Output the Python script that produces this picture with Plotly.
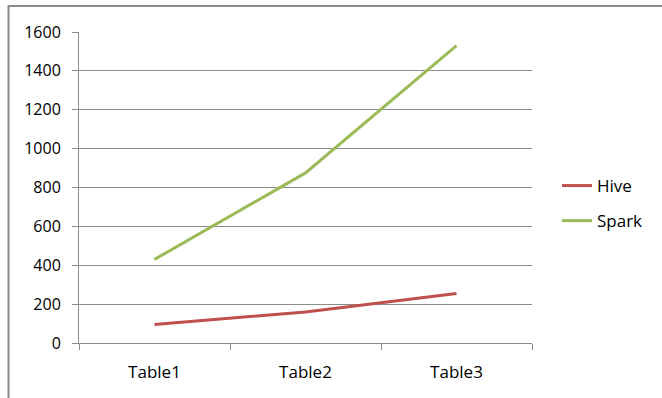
import plotly.graph_objects as go

categories = ["Table1", "Table2", "Table3"]
hive = [95, 160, 255]
spark = [430, 875, 1530]
y_ticks = [0, 200, 400, 600, 800, 1000, 1200, 1400, 1600]

W, H = 662, 398
L, R, T, B = 79, 130, 32, 55
pw, ph = W - L - R, H - T - B

def px_x(p):
    return (p - L) / pw

def px_y(p):
    return 1 - (p - T) / ph

fig = go.Figure()
fig.add_trace(go.Scatter(x=categories, y=hive, mode="lines", name="Hive",
                         line=dict(color="#C0504D", width=3), legendgroup="a"))
fig.add_trace(go.Scatter(x=categories, y=spark, mode="lines", name="Spark",
                         line=dict(color="#9BBB59", width=3), legendgroup="b"))

font_fam = "Open Sans, DejaVu Sans, sans-serif"
fig.update_layout(
    width=W, height=H,
    margin=dict(l=L, r=R, t=T, b=B),
    paper_bgcolor="white", plot_bgcolor="white",
    font=dict(family=font_fam, size=16, color="#000000"),
    showlegend=True,
    legend=dict(x=px_x(557), y=px_y(168), xanchor="left", yanchor="top",
                tracegroupgap=10, font=dict(size=17, family=font_fam),
                bgcolor="rgba(0,0,0,0)"),
    xaxis=dict(range=[-0.5, 2.5], type="category", showgrid=False,
               showline=True, linecolor="#8c8c8c", linewidth=1,
               ticks="outside", tickson="boundaries", ticklen=6,
               tickcolor="#8c8c8c", tickfont=dict(size=17),
               ticklabelstandoff=14, fixedrange=True),
    yaxis=dict(range=[0, 1600], tickvals=y_ticks, showgrid=True,
               gridcolor="#8c8c8c", gridwidth=1, showline=True,
               linecolor="#8c8c8c", linewidth=1, ticks="outside", ticklen=6,
               tickcolor="#8c8c8c", tickfont=dict(size=16),
               ticklabelstandoff=8, zeroline=False),
)

fig.add_shape(type="rect", xref="paper", yref="paper",
              x0=px_x(8.5), x1=px_x(700), y0=px_y(430), y1=px_y(6),
              line=dict(color="#8a8a8a", width=2), fillcolor="rgba(0,0,0,0)",
              layer="below")

fig.write_html("out.html")
